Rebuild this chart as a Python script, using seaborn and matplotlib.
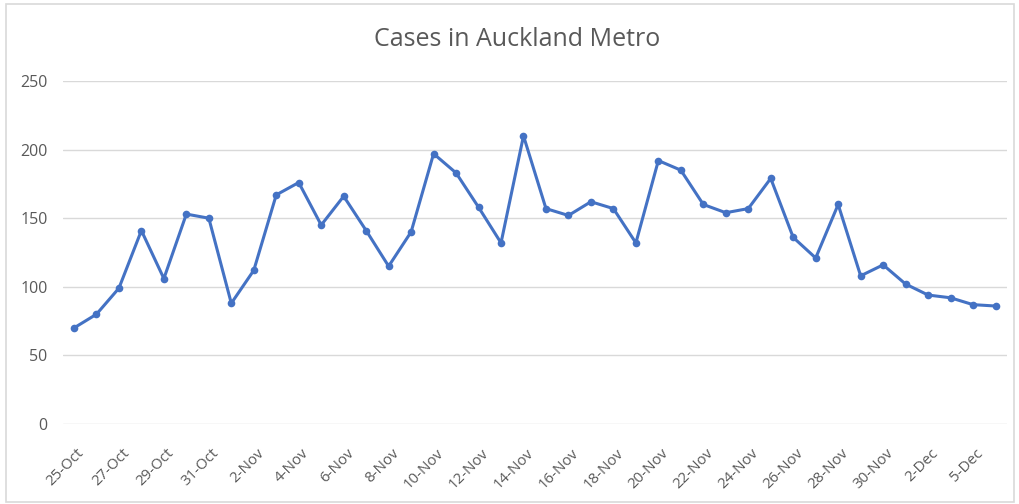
import matplotlib.pyplot as plt
import matplotlib.patches as mpatches
import matplotlib.transforms as mtransforms
import pandas as pd
import seaborn as sns

dates = ['25-Oct', '26-Oct', '27-Oct', '28-Oct', '29-Oct', '30-Oct', '31-Oct',
         '1-Nov', '2-Nov', '3-Nov', '4-Nov', '5-Nov', '6-Nov', '7-Nov', '8-Nov',
         '9-Nov', '10-Nov', '11-Nov', '12-Nov', '13-Nov', '14-Nov', '15-Nov',
         '16-Nov', '17-Nov', '18-Nov', '19-Nov', '20-Nov', '21-Nov', '22-Nov',
         '23-Nov', '24-Nov', '25-Nov', '26-Nov', '27-Nov', '28-Nov', '29-Nov',
         '30-Nov', '1-Dec', '2-Dec', '3-Dec', '5-Dec', '6-Dec']
cases = [70, 80, 99, 141, 106, 153, 150, 88, 112, 167, 176, 145, 166, 141, 115,
         140, 197, 183, 158, 132, 210, 157, 152, 162, 157, 132, 192, 185, 160,
         154, 157, 179, 136, 121, 160, 108, 116, 102, 94, 92, 87, 86]

df = pd.DataFrame({'date': dates, 'cases': cases})

sns.set_style('white')
plt.rcParams['font.family'] = ['Open Sans', 'DejaVu Sans']

fig = plt.figure(figsize=(10.2, 5.04), dpi=100)
ax = fig.add_axes([0.0615, 0.1587, 0.9255, 0.6806])

sns.lineplot(data=df, x='date', y='cases', ax=ax, sort=False, color='#4472C4',
             linewidth=2.2, marker='o', markersize=5.5, markeredgewidth=0)

ax.set_ylim(0, 250)
ax.set_xlim(-0.5, len(dates) - 0.5)
ax.set_yticks(range(0, 251, 50))
ax.yaxis.grid(True, color='#D9D9D9', linewidth=1)
ax.set_xticks(range(0, len(dates), 2))
ax.set_xticklabels(dates[::2], rotation=45, ha='right', va='center',
                   rotation_mode='anchor')
ax.tick_params(axis='both', colors='#595959', length=0)
ax.tick_params(axis='y', pad=11, labelsize=11.5)
ax.tick_params(axis='x', pad=0, labelsize=10.8)

# shift the slanted labels like Excel does
offset = mtransforms.ScaledTranslation(8 / 100, -27 / 100, fig.dpi_scale_trans)
for lab in ax.get_xticklabels():
    lab.set_transform(lab.get_transform() + offset)

ax.set_xlabel('')
ax.set_ylabel('')
for s in ax.spines.values():
    s.set_visible(False)

fig.text(0.507, 0.921, 'Cases in Auckland Metro', ha='center', va='center',
         fontsize=18, color='#595959')

fig.patches.append(mpatches.Rectangle((0.006, 0.004), 0.988, 0.988,
                                      transform=fig.transFigure, fill=False,
                                      edgecolor='#D9D9D9', linewidth=1.2))

fig.savefig('out.png', dpi=100)
